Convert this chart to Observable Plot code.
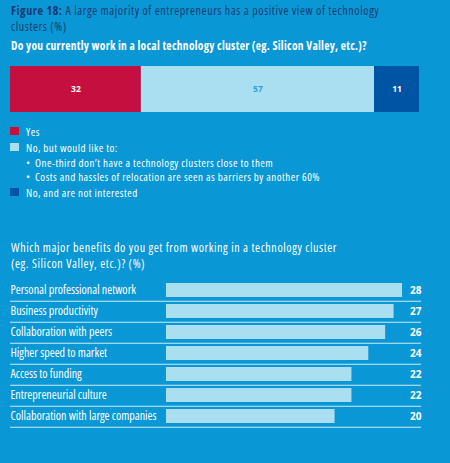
<!DOCTYPE html>
<html><head><meta charset="utf-8">
<script src="https://cdn.jsdelivr.net/npm/d3@7"></script>
<script src="https://cdn.jsdelivr.net/npm/@observablehq/plot@0.6"></script>
<style>
html,body{margin:0;padding:0;}
body{width:450px;height:463px;background:#0997d5;position:relative;overflow:hidden;font-family:"Open Sans",sans-serif;color:#fff;}
.t{position:absolute;left:11px;white-space:nowrap;line-height:1;}
.title{color:#173a72;font-size:12px;}
.sub{font-size:11.5px;font-weight:bold;}
.sub2{font-size:12px;}
.leg{font-size:11px;left:26px;}
.sw{position:absolute;left:10px;width:9px;height:8px;}
#topbar,#bars{position:absolute;left:0;}
svg{overflow:visible;}
</style></head>
<body>
<script>
const shareCats = ["Yes", "No, but would like to", "No, and are not interested"];
const shareValues = [32, 57, 11];
const shareColors = ["#c5103f", "#aadff2", "#0054a4"];

const benefitLabels = ["Personal professional network", "Business productivity", "Collaboration with peers", "Higher speed to market", "Access to funding", "Entrepreneurial culture", "Collaboration with large companies"];
const benefitValues = [28, 27, 26, 24, 22, 22, 20];

const titleBold = "Figure 18:";
const titleRest = " A large majority of entrepreneurs has a positive view of technology";
const titleLine2 = "clusters (%)";
const subtitle = "Do you currently work in a local technology cluster (eg. Silicon Valley, etc.)?";
const bullets = ["One-third don\u2019t have a technology clusters close to them", "Costs and hassles of relocation are seen as barriers by another 60%"];
const title2 = ["Which major benefits do you get from working in a technology cluster", "(eg. Silicon Valley, etc.)? (%)"];

function addText(txt, cls, y, x) {
  const d = document.createElement("div");
  d.className = "t " + cls;
  d.style.top = y + "px";
  if (x !== undefined) d.style.left = x + "px";
  d.innerHTML = txt;
  document.body.appendChild(d);
  return d;
}
function addSwatch(color, y) {
  const d = document.createElement("div");
  d.className = "sw";
  d.style.top = y + "px";
  d.style.background = color;
  document.body.appendChild(d);
}
// find a font-stretch that makes the element (measured via probe) match a target width
function fitStretch(el, target, probe) {
  probe = probe || el;
  let lo = 50, hi = 125;
  for (let i = 0; i < 14; i++) {
    const mid = (lo + hi) / 2;
    el.style.fontStretch = mid + "%";
    if (probe.getBoundingClientRect().width > target) hi = mid; else lo = mid;
  }
  const s = (lo + hi) / 2 + "%";
  el.style.fontStretch = s;
  return s;
}
function fitSpacing(el, target, n) {
  const w = el.getBoundingClientRect().width;
  const ls = Math.max(-0.6, Math.min(0.6, (target - w) / n));
  el.style.letterSpacing = ls + "px";
  return ls;
}

const t1 = addText("<b>" + titleBold + "</b>" + titleRest, "title", 5);
const t2 = addText(titleLine2, "title", 21);
const st = fitStretch(t1, 369); fitSpacing(t1, 369, 78);
t2.style.fontStretch = st; t2.style.letterSpacing = t1.style.letterSpacing;
const sb = addText(subtitle, "sub", 40);
fitStretch(sb, 356); fitSpacing(sb, 356, 80);

addSwatch(shareColors[0], 127);
const l1 = addText(shareCats[0], "leg", 126);
addSwatch(shareColors[1], 143);
const l2 = addText(shareCats[1] + ":", "leg", 142);
addText("\u2022", "leg", 157);
const b1 = addText(bullets[0], "leg", 157, 35);
addText("\u2022", "leg", 171);
const b2 = addText(bullets[1], "leg", 171, 35);
addSwatch(shareColors[2], 188);
const l3 = addText(shareCats[2], "leg", 187);
const ls = fitStretch(b2, 285); fitSpacing(b2, 285, 67);
[l1, l2, b1, l3].forEach(e => { e.style.fontStretch = ls; e.style.letterSpacing = b2.style.letterSpacing; });

const q1 = addText(title2[0], "sub2", 242);
const q2 = addText(title2[1], "sub2", 258);
const qs = fitStretch(q1, 331); fitSpacing(q1, 331, 68);
q2.style.fontStretch = qs; q2.style.letterSpacing = q1.style.letterSpacing;

const shareData = shareCats.map((c, i) => ({cat: c, value: shareValues[i]}));
const topChart = Plot.plot({
  width: 450, height: 46,
  marginLeft: 10, marginRight: 31, marginTop: 0, marginBottom: 0,
  style: {fontFamily: "Open Sans, sans-serif"},
  x: {domain: [0, 100], axis: null},
  color: {domain: shareCats, range: shareColors},
  marks: [
    Plot.barX(shareData, {x: "value", fill: "cat"}),
    Plot.text(shareData, Plot.stackX({x: "value", text: d => d.cat === shareCats[1] ? "" : d.value, fill: "white", fontWeight: "bold", fontSize: 8.5})),
    Plot.text(shareData, Plot.stackX({x: "value", text: d => d.cat === shareCats[1] ? d.value : "", fill: "#2a9fd9", fontWeight: "bold", fontSize: 8.5}))
  ]
});
topChart.id = "topbar";
topChart.style.top = "66px";
document.body.appendChild(topChart);

const benefits = benefitLabels.map((l, i) => ({label: l, value: benefitValues[i]}));
const step = 21.5;
const bars = Plot.plot({
  width: 450, height: 165,
  marginLeft: 10, marginRight: 29, marginTop: 0, marginBottom: 0,
  style: {fontFamily: "Open Sans, sans-serif"},
  x: {domain: [0, d3.max(benefitValues)], range: [166, 402], axis: null},
  y: {domain: benefitLabels, range: [7.5, 7.5 + step * benefitLabels.length], paddingInner: 0.326, paddingOuter: 0.163, axis: null},
  marks: [
    Plot.barX(benefits, {x: "value", y: "label", fill: "#aadff2"}),
    Plot.ruleY(benefits, {y: "label", dy: step / 2, stroke: "#cfeaf7", strokeWidth: 1}),
    Plot.text(benefits, {y: "label", text: "label", frameAnchor: "left", textAnchor: "start", fill: "white", fontSize: 12}),
    Plot.text(benefits, {y: "label", text: "value", frameAnchor: "right", textAnchor: "end", fill: "white", fontSize: 10, fontWeight: "bold"})
  ]
});
bars.id = "bars";
bars.style.top = "270px";
document.body.appendChild(bars);
const textGroups = bars.querySelectorAll('g[aria-label="text"]');
if (textGroups.length) {
  const labelGroup = textGroups[0];
  fitStretch(labelGroup, 125, labelGroup.querySelector("text"));
}
</script>
</body></html>
